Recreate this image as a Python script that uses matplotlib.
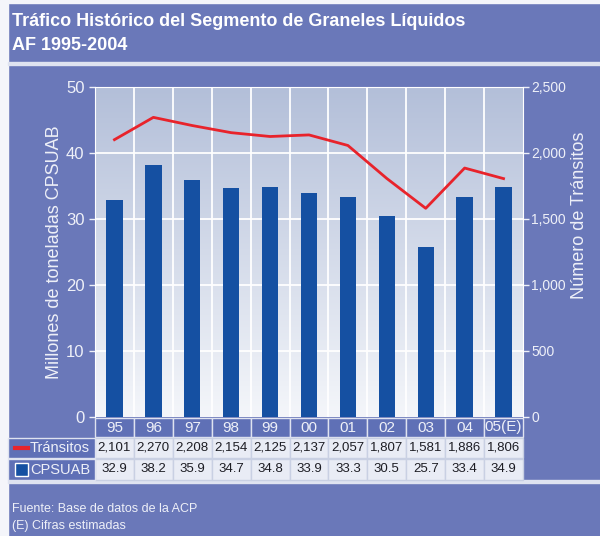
import matplotlib

matplotlib.use("Agg")
import matplotlib.pyplot as plt
import numpy as np
from matplotlib.patches import Rectangle
from matplotlib.transforms import blended_transform_factory

years = ["95", "96", "97", "98", "99", "00", "01", "02", "03", "04", "05(E)"]
transitos = [2101, 2270, 2208, 2154, 2125, 2137, 2057, 1807, 1581, 1886, 1806]
cpsuab = [32.9, 38.2, 35.9, 34.7, 34.8, 33.9, 33.3, 30.5, 25.7, 33.4, 34.9]

BG = "#6a78b9"
BAR = "#1550a2"
LINE = "#e8232b"
TXT = "#eef0f8"
W, H = 600, 536

plt.rcParams["font.family"] = ["Liberation Sans", "DejaVu Sans"]

fig = plt.figure(figsize=(W / 100, H / 100), dpi=100, facecolor=BG)


def fy(py):
    return 1 - py / H


def fx(px):
    return px / W


# outer border strips and panel separators
fig.patches.append(Rectangle((0, fy(3)), 1, 3 / H, transform=fig.transFigure, color="#f4f5fa", zorder=0))
fig.patches.append(Rectangle((0, 0), fx(8), 1, transform=fig.transFigure, color="#f4f5fa", zorder=0))
for sep in (63, 481):
    fig.patches.append(Rectangle((fx(8), fy(sep + 1.5)), 1, 3 / H, transform=fig.transFigure,
                                 color="#dfe3f0", zorder=0))

fig.text(fx(12), fy(22), "Tráfico Histórico del Segmento de Graneles Líquidos", color="white",
         fontsize=13, fontweight="bold", va="center", ha="left")
fig.text(fx(12), fy(45), "AF 1995-2004", color="white", fontsize=13, fontweight="bold",
         va="center", ha="left")
fig.text(fx(12), fy(509), "Fuente: Base de datos de la ACP", color=TXT, fontsize=9, va="center")
fig.text(fx(12), fy(526), "(E) Cifras estimadas", color=TXT, fontsize=9, va="center")

left, right, top, bottom = 95, 523, 87, 417
ax = fig.add_axes([fx(left), fy(bottom), fx(right - left), (bottom - top) / H])
x = np.arange(len(years))
ax.set_xlim(-0.5, len(years) - 0.5)
ax.set_ylim(0, 50)

# vertical gradient behind the plot
grad = np.linspace(0, 1, 256).reshape(-1, 1)
cmap = matplotlib.colors.LinearSegmentedColormap.from_list("bgfade", ["#f4f6fa", "#b3bfd9"])
ax.imshow(grad, aspect="auto", cmap=cmap, origin="lower", extent=(-0.5, len(years) - 0.5, 0, 50),
          zorder=0)

for b in np.arange(0.5, len(years) - 1, 1.0):
    ax.axvline(b, color="white", lw=1.3, zorder=1)
for g in (10, 20, 30, 40):
    ax.axhline(g, color="white", lw=1.3, zorder=1)

ax.bar(x, cpsuab, width=0.42, color=BAR, zorder=2)

ax2 = ax.twinx()
ax2.set_ylim(0, 2500)
ax2.plot(x, transitos, color=LINE, lw=2, zorder=3)

for a in (ax, ax2):
    for s in a.spines.values():
        s.set_visible(False)
    a.tick_params(colors=TXT, labelsize=12, length=4, width=1)
ax.spines["left"].set_visible(True)
ax.spines["left"].set_color("white")
ax.spines["top"].set_visible(True)
ax.spines["top"].set_color("white")
ax2.spines["right"].set_visible(True)
ax2.spines["right"].set_color("white")
ax.set_yticks([0, 10, 20, 30, 40, 50])
ax2.set_yticks([0, 500, 1000, 1500, 2000, 2500])
ax2.set_yticklabels(["0", "500", "1,000", "1,500", "2,000", "2,500"], fontsize=10)
ax2.tick_params(pad=2)
ax.set_xticks([])
fig.text(fx(55), fy(252), "Millones de toneladas CPSUAB", color=TXT, fontsize=13,
         rotation=90, ha="center", va="center")
fig.text(fx(580), fy(215), "Número de Tránsitos", color=TXT, fontsize=13,
         rotation=90, ha="center", va="center")

# data table under the plot
tr = blended_transform_factory(ax.transData, fig.transFigure)
rows = [(418, 437), (438, 458), (459, 480)]
for i, yr in enumerate(years):
    y0, y1 = rows[0]
    fig.patches.append(Rectangle((i - 0.5, fy(y1)), 1, (y1 - y0) / H, transform=tr,
                                 facecolor="#5f70b6", edgecolor="#dfe3f0", lw=1, zorder=1))
    fig.text(i, fy((y0 + y1) / 2), yr, transform=tr, ha="center", va="center",
             color=TXT, fontsize=11)
    for (y0, y1), val in zip(rows[1:], (f"{transitos[i]:,}", f"{cpsuab[i]:.1f}")):
        fig.patches.append(Rectangle((i - 0.5, fy(y1)), 1, (y1 - y0) / H, transform=tr,
                                     facecolor="#e9ecf5", edgecolor="#c9d0e3", lw=1, zorder=1))
        fig.text(i, fy((y0 + y1) / 2), val, transform=tr, ha="center", va="center",
                 color="#1d1d24", fontsize=9.5)

for (y0, y1) in rows[1:]:
    fig.patches.append(Rectangle((fx(8), fy(y1)), fx(left - 8), (y1 - y0) / H,
                                 transform=fig.transFigure, facecolor="#5f70b6",
                                 edgecolor="#dfe3f0", lw=1, zorder=1))
fig.lines.append(plt.Line2D([fx(15), fx(28)], [fy(448)] * 2, transform=fig.transFigure,
                            color=LINE, lw=3))
fig.text(fx(30), fy(448), "Tránsitos", color=TXT, fontsize=10.5, va="center")
fig.patches.append(Rectangle((fx(15), fy(476)), fx(13), 13 / H, transform=fig.transFigure,
                             facecolor=BAR, edgecolor="white", lw=1))
fig.text(fx(30), fy(469.5), "CPSUAB", color=TXT, fontsize=10.5, va="center")

fig.savefig("out.png", dpi=100, facecolor=BG)
